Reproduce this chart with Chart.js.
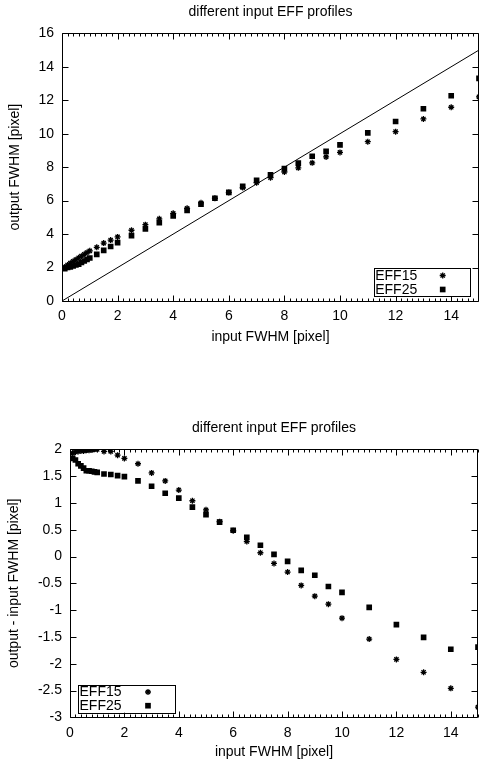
<!DOCTYPE html>
<html><head><meta charset="utf-8">
<script src="https://cdn.jsdelivr.net/npm/chart.js@4.4.1/dist/chart.umd.min.js"></script>
<style>
html,body{margin:0;padding:0;background:#fff;overflow:hidden;width:479px;height:763px;}
.wrap{position:absolute;left:0;width:479px;}
#w1{top:0;height:350px;}
#w2{top:400px;height:363px;}
canvas{display:block;}
</style></head><body>
<div class="wrap" id="w1"><canvas id="c1" width="479" height="350"></canvas></div>
<div class="wrap" id="w2"><canvas id="c2" width="479" height="363"></canvas></div>
<script>
// ---------------- data ----------------
const chartTitle = 'different input EFF profiles';
const xAxisTitle = 'input FWHM [pixel]';
const yAxisTitleTop = 'output FWHM [pixel]';
const yAxisTitleBottom = 'output - input FWHM [pixel]';
const seriesNames = ['EFF15', 'EFF25'];

const inputFWHM = [0.1,0.2,0.3,0.4,0.5,0.6,0.7,0.8,0.9,1.0,
  1.25,1.5,1.75,
  2,2.5,3,3.5,4,4.5,5,5.5,6,6.5,7,7.5,8,8.5,9,9.5,10,
  11,12,13,14,15];

const eff15Output = [2.03,2.15,2.26,2.37,2.47,2.58,2.68,2.79,2.90,3.00,
  3.21,3.46,3.64,
  3.83,4.23,4.56,4.91,5.24,5.54,5.87,6.14,6.48,6.78,7.07,7.37,7.71,7.96,8.26,8.61,8.88,
  9.52,10.12,10.88,11.58,12.20];
const eff25Output = [1.93,2.00,2.03,2.09,2.15,2.20,2.30,2.39,2.48,2.57,
  2.79,3.03,3.26,
  3.49,3.91,4.31,4.68,5.09,5.42,5.78,6.14,6.49,6.86,7.21,7.54,7.91,8.24,8.65,8.94,9.33,
  10.05,10.73,11.49,12.27,13.31];

const eff15Diff = [1.93,1.95,1.96,1.97,1.97,1.98,1.98,1.99,2.00,2.00,
  1.96,1.96,1.89,
  1.83,1.73,1.56,1.41,1.24,1.04,0.87,0.65,0.48,0.28,0.07,-0.13,-0.29,-0.54,-0.74,-0.89,-1.15,
  -1.54,-1.92,-2.16,-2.46,-2.81];
const eff25Diff = [1.83,1.80,1.73,1.69,1.65,1.60,1.60,1.59,1.58,1.57,
  1.54,1.53,1.51,
  1.49,1.41,1.31,1.18,1.09,0.92,0.78,0.64,0.49,0.36,0.21,0.04,-0.09,-0.26,-0.35,-0.56,-0.67,
  -0.95,-1.27,-1.51,-1.73,-1.69];

// identity reference line (output = input), endpoints
const identityX = [0, 15];
const identityY = [0, 15];

const xTickValues = [0,2,4,6,8,10,12,14];
const yTickValuesTop = [0,2,4,6,8,10,12,14,16];
const yTickValuesBottom = [-3,-2.5,-2,-1.5,-1,-0.5,0,0.5,1,1.5,2];

// ---------------- helpers ----------------
const FONT = "'Liberation Sans', Arial, Helvetica, sans-serif";
const F14 = {family: FONT, size: 14, weight: 'normal'};
const toPts = (xs, ys) => xs.map((x, i) => ({x: x, y: ys[i]}));

function drawMarker(ctx, style, x, y) {
  ctx.save();
  ctx.strokeStyle = '#000'; ctx.fillStyle = '#000'; ctx.lineWidth = 1.3;
  if (style === 'star') {
    const r = 3, d = r * Math.SQRT1_2;
    ctx.beginPath();
    ctx.moveTo(x - r, y); ctx.lineTo(x + r, y);
    ctx.moveTo(x, y - r); ctx.lineTo(x, y + r);
    ctx.moveTo(x - d, y - d); ctx.lineTo(x + d, y + d);
    ctx.moveTo(x - d, y + d); ctx.lineTo(x + d, y - d);
    ctx.stroke();
  } else {
    const s = 4 * Math.SQRT1_2;
    ctx.fillRect(x - s, y - s, 2 * s, 2 * s);
  }
  ctx.restore();
}

// gnuplot-like frame with inward major and minor ticks
const framePlugin = {
  id: 'frame',
  afterDatasetsDraw(chart, args, o) {
    const ctx = chart.ctx, a = chart.chartArea;
    const xs = chart.scales.x, ys = chart.scales.y;
    const L = Math.round(a.left) + 0.5, R = Math.round(a.right) - 0.5;
    const T = Math.round(a.top) + 0.5, B = Math.round(a.bottom) + 0.5;
    ctx.save();
    ctx.strokeStyle = '#000'; ctx.lineWidth = 1;
    ctx.beginPath();
    ctx.rect(L, T, R - L, B - T);
    ctx.stroke();
    ctx.beginPath();
    const major = 6, minor = 3;
    xTickValues.forEach(v => {
      const p = Math.round(xs.getPixelForValue(v)) + 0.5;
      ctx.moveTo(p, B); ctx.lineTo(p, B - major);
      ctx.moveTo(p, T); ctx.lineTo(p, T + major);
    });
    for (let k = 0; k <= 75; k++) {
      if (k % 10 === 0) continue;
      const v = k * 0.2;
      const p = Math.round(xs.getPixelForValue(v)) + 0.5;
      ctx.moveTo(p, B); ctx.lineTo(p, B - minor);
      ctx.moveTo(p, T); ctx.lineTo(p, T + minor);
    }
    o.yTicks.forEach(v => {
      const p = Math.round(ys.getPixelForValue(v)) + 0.5;
      ctx.moveTo(L, p); ctx.lineTo(L + major, p);
      ctx.moveTo(R, p); ctx.lineTo(R - major, p);
    });
    ctx.stroke();
    ctx.restore();
  }
};

// boxed key, text left and sample right (gnuplot style)
const keyPlugin = {
  id: 'key',
  afterDraw(chart, args, o) {
    const ctx = chart.ctx, a = chart.chartArea;
    const x0 = o.fromLeft != null ? a.left + o.fromLeft : a.right - o.fromRight;
    const y1 = a.bottom - o.fromBottom;
    const y0 = y1 - o.height;
    ctx.save();
    ctx.fillStyle = '#fff';
    ctx.fillRect(x0, y0, o.width, o.height);
    ctx.strokeStyle = '#000'; ctx.lineWidth = 1;
    ctx.strokeRect(Math.round(x0) + 0.5, Math.round(y0) + 0.5, Math.round(o.width), Math.round(o.height));
    ctx.font = '14px ' + FONT;
    ctx.fillStyle = '#000';
    ctx.textAlign = 'left'; ctx.textBaseline = 'middle';
    const styles = ['star', 'rect'];
    seriesNames.forEach((name, i) => {
      const cy = y0 + o.rowTop + i * o.rowStep;
      ctx.fillText(name, x0 + 1.5, cy + 0.5);
      drawMarker(ctx, styles[i], x0 + o.markerDx, cy);
    });
    ctx.restore();
  }
};

function makeChart(id, cfg) {
  const datasets = [];
  if (cfg.identity) {
    datasets.push({
      label: '', type: 'scatter', data: toPts(identityX, identityY), showLine: true,
      borderColor: '#000', borderWidth: 1, pointRadius: 0, fill: false
    });
  }
  datasets.push({
    label: seriesNames[0], data: toPts(inputFWHM, cfg.s1),
    pointStyle: 'star', pointRadius: 3, borderColor: '#000', backgroundColor: '#000', borderWidth: 1.3
  });
  datasets.push({
    label: seriesNames[1], data: toPts(inputFWHM, cfg.s2),
    pointStyle: 'rect', pointRadius: 4, borderColor: '#000', backgroundColor: '#000', borderWidth: 0
  });
  return new Chart(document.getElementById(id), {
    type: 'scatter',
    data: {datasets},
    plugins: [framePlugin, keyPlugin],
    options: {
      responsive: false, animation: false, devicePixelRatio: 1,
      events: [],
      layout: {autoPadding: false, padding: {left: 0, right: cfg.padRight, top: 0, bottom: 0}},
      plugins: {
        legend: {display: false},
        tooltip: {enabled: false},
        title: {display: true, fullSize: false, text: chartTitle, font: F14, color: '#000',
          padding: {top: cfg.titleTop, bottom: cfg.titleBottom}},
        frame: {yTicks: cfg.yTicks},
        key: cfg.key
      },
      scales: {
        x: {
          type: 'linear', min: 0, max: 15,
          grid: {display: false, drawTicks: false}, border: {display: false},
          afterBuildTicks: s => { s.ticks = xTickValues.map(v => ({value: v})); },
          afterFit: s => { s.height = cfg.xHeight; },
          ticks: {font: F14, color: '#000', padding: cfg.xTickPad, maxRotation: 0, autoSkip: false,
            callback: v => String(v)},
          title: {display: true, text: xAxisTitle, font: F14, color: '#000',
            padding: {top: 0, bottom: cfg.xTitlePad}}
        },
        y: {
          type: 'linear', min: cfg.yMin, max: cfg.yMax,
          grid: {display: false, drawTicks: false}, border: {display: false},
          afterBuildTicks: s => { s.ticks = cfg.yTicks.map(v => ({value: v})); },
          afterFit: s => { s.width = cfg.yWidth; },
          ticks: {font: F14, color: '#000', padding: 8, autoSkip: false, callback: v => String(v)},
          title: {display: true, text: cfg.yTitle, font: F14, color: '#000',
            padding: {top: cfg.yTitlePad, bottom: 0}}
        }
      }
    }
  });
}

makeChart('c1', {
  identity: true, s1: eff15Output, s2: eff25Output,
  yMin: 0, yMax: 16, yTicks: yTickValuesTop, yTitle: yAxisTitleTop,
  padRight: 0, titleTop: 4, titleBottom: 12.5,
  xHeight: 49, xTickPad: 7, xTitlePad: 4.5,
  yWidth: 62, yTitlePad: 6.5,
  key: {fromRight: 105.3, fromBottom: 5, width: 96, height: 28, rowTop: 7.5, rowStep: 14, markerDx: 69}
});

makeChart('c2', {
  identity: false, s1: eff15Diff, s2: eff25Diff,
  yMin: -3, yMax: 2, yTicks: yTickValuesBottom, yTitle: yAxisTitleBottom,
  padRight: 1, titleTop: 19.5, titleBottom: 13,
  xHeight: 45.7, xTickPad: 7, xTitlePad: 2.5,
  yWidth: 70, yTitlePad: 6,
  key: {fromLeft: 8, fromBottom: 4.6, width: 97, height: 28, rowTop: 7.3, rowStep: 13.7, markerDx: 70}
});
</script>
</body></html>
